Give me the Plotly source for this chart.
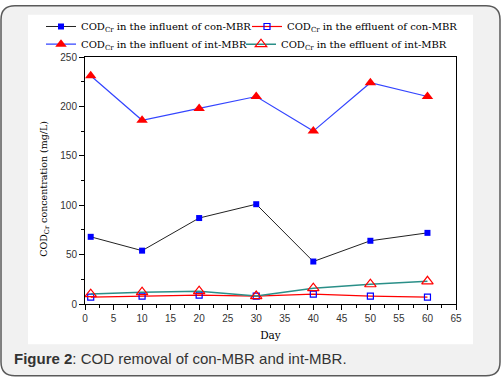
import plotly.graph_objects as go

days = [1, 10, 20, 30, 40, 50, 60]
influent_con = [68, 54, 87, 101, 43, 64, 72]
effluent_con = [7, 8, 9, 8, 10, 8, 7]
influent_int = [231, 186, 198, 210, 175, 224, 210]
effluent_int = [10, 12, 13, 8, 16, 20, 23]

names = [
    "COD<sub>Cr</sub> in the influent of con-MBR",
    "COD<sub>Cr</sub> in the effluent of con-MBR",
    "COD<sub>Cr</sub> in the influent of int-MBR",
    "COD<sub>Cr</sub> in the effluent of int-MBR",
]

W, H = 502, 379
L, R, T, B = 85, 456, 53, 304


def px(x):
    return (x - L) / (R - L)


def py(y):
    return (B - y) / (B - T)


fig = go.Figure()
fig.add_trace(go.Scatter(x=days, y=influent_con, name=names[0], mode="lines+markers",
                         legend="legend",
                         line=dict(color="#222222", width=1),
                         marker=dict(symbol="square", size=6, color="#0000ff")))
fig.add_trace(go.Scatter(x=days, y=effluent_con, name=names[1], mode="lines+markers",
                         legend="legend2",
                         line=dict(color="#ff0000", width=1.2),
                         marker=dict(symbol="square-open", size=6, color="#0000ff",
                                     line=dict(width=1.2, color="#0000ff"))))
fig.add_trace(go.Scatter(x=days, y=influent_int, name=names[2], mode="lines+markers",
                         legend="legend3",
                         line=dict(color="#3344ff", width=1.2),
                         marker=dict(symbol="triangle-up", size=10, color="#ff0000")))
fig.add_trace(go.Scatter(x=days, y=effluent_int, name=names[3], mode="lines+markers",
                         legend="legend4",
                         line=dict(color="#2a8f88", width=1.5),
                         marker=dict(symbol="triangle-up-open", size=10, color="#ff0000",
                                     line=dict(width=1.2, color="#ff0000"))))

# rounded outer border
x0, x1, y0, y1, r = 1, 500, 1, 377, 14
path = (
    f"M {px(x0 + r)},{py(y0)} L {px(x1 - r)},{py(y0)} "
    f"Q {px(x1)},{py(y0)} {px(x1)},{py(y0 + r)} "
    f"L {px(x1)},{py(y1 - r)} Q {px(x1)},{py(y1)} {px(x1 - r)},{py(y1)} "
    f"L {px(x0 + r)},{py(y1)} Q {px(x0)},{py(y1)} {px(x0)},{py(y1 - r)} "
    f"L {px(x0)},{py(y0 + r)} Q {px(x0)},{py(y0)} {px(x0 + r)},{py(y0)} Z"
)
fig.add_shape(type="path", path=path, xref="paper", yref="paper",
              line=dict(color="#5a5a5a", width=1.5), fillcolor="#f1f1f1", layer="below")
fig.add_shape(type="rect", xref="paper", yref="paper",
              x0=px(28), x1=px(473), y0=py(345), y1=py(10),
              line=dict(width=0), fillcolor="#ffffff", layer="below")

fig.add_annotation(xref="paper", yref="paper", x=px(12), y=py(359),
                   xanchor="left", yanchor="middle", showarrow=False,
                   text="<b>Figure 2</b>: COD removal of con-MBR and int-MBR.",
                   font=dict(family="Liberation Sans, Arial", size=15, color="#333333"))

fig.add_annotation(xref="paper", yref="paper", x=px(45), y=py(187),
                   xanchor="center", yanchor="middle", showarrow=False, textangle=-90,
                   text="COD<sub>Cr</sub> concentration (mg/L)",
                   font=dict(family="DejaVu Serif, serif", size=9.5, color="black"))

axis_common = dict(showline=True, linecolor="black", linewidth=1, mirror=True,
                   ticks="outside", ticklen=5, tickwidth=1, tickcolor="black",
                   showgrid=False, zeroline=False,
                   tickfont=dict(family="Liberation Sans, Arial", size=10, color="#333333"))

leg_common = dict(orientation="v", xanchor="left", yanchor="middle", itemwidth=30,
                  bgcolor="rgba(0,0,0,0)",
                  font=dict(family="DejaVu Serif, serif", size=10, color="black"))

fig.update_layout(
    width=W, height=H,
    margin=dict(l=L, r=W - R, t=T, b=H - B),
    paper_bgcolor="rgba(0,0,0,0)",
    plot_bgcolor="rgba(0,0,0,0)",
    font=dict(family="DejaVu Serif, serif", color="black"),
    xaxis=dict(range=[0, 65], dtick=5, tick0=0,
               minor=dict(dtick=2.5, ticks="outside", ticklen=3, tickcolor="black"),
               title=dict(text="Day", font=dict(family="DejaVu Serif", size=10.5), standoff=8),
               **axis_common),
    yaxis=dict(range=[0, 250], dtick=50, tick0=0,
               minor=dict(dtick=25, ticks="outside", ticklen=3, tickcolor="black"),
               **axis_common),
    showlegend=True,
    legend=dict(x=px(41), y=py(22), **leg_common),
    legend2=dict(x=px(247), y=py(22), **leg_common),
    legend3=dict(x=px(41), y=py(40), **leg_common),
    legend4=dict(x=px(241), y=py(40), **leg_common),
)

fig.write_html("out.html", config={"displayModeBar": False},
               post_script="document.body.style.margin='0';")
